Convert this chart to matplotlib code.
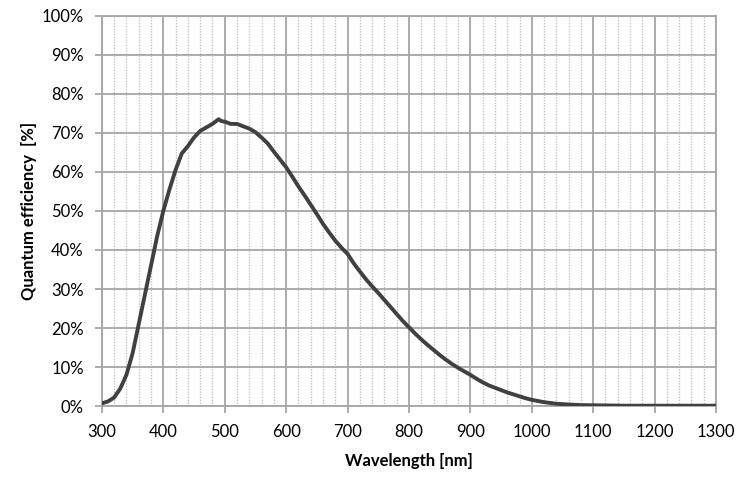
import matplotlib
matplotlib.use("Agg")
import matplotlib.pyplot as plt
from matplotlib.ticker import MultipleLocator, FuncFormatter

wavelength = [300, 310, 320, 330, 340, 350, 360, 370, 380, 390,
              400, 410, 420, 430, 440, 450, 460, 470, 480, 490,
              495, 500, 510, 520, 530, 540, 550, 560, 570, 580,
              590, 600, 610, 620, 630, 640, 650, 660, 670, 680,
              690, 700, 710, 720, 730, 740, 750, 760, 770, 780,
              790, 800, 810, 820, 830, 840, 850, 860, 870, 880,
              890, 900, 910, 920, 930, 940, 950, 960, 970, 980,
              990, 1000, 1020, 1040, 1060, 1080, 1100, 1150, 1200, 1250, 1300]
qe = [0.7, 1.2, 2.2, 4.5, 8.0, 13.5, 21.0, 28.5, 36.0, 43.5,
      50.0, 55.5, 60.5, 64.7, 66.6, 68.8, 70.5, 71.4, 72.3, 73.5,
      73.0, 72.9, 72.3, 72.3, 71.7, 71.1, 70.2, 68.8, 67.3, 65.2,
      63.2, 61.2, 58.8, 56.3, 54.0, 51.6, 49.2, 46.7, 44.5, 42.4,
      40.6, 39.0, 36.6, 34.5, 32.5, 30.7, 29.0, 27.2, 25.4, 23.6,
      21.8, 20.2, 18.6, 17.1, 15.7, 14.4, 13.1, 11.9, 10.8, 9.8,
      8.9, 8.0, 7.0, 6.1, 5.3, 4.7, 4.1, 3.5, 3.0, 2.5,
      2.0, 1.6, 1.0, 0.6, 0.4, 0.25, 0.2, 0.1, 0.1, 0.1, 0.1]

plt.rcParams["font.family"] = ["Lato", "DejaVu Sans"]

fig = plt.figure(figsize=(7.49, 4.8), dpi=100)
ax = fig.add_axes([0.136, 0.154, 0.820, 0.813])

ax.plot(wavelength, qe, color="#404040", linewidth=2.8, solid_capstyle="round",
        solid_joinstyle="round", zorder=3)

ax.set_xlim(300, 1300)
ax.set_ylim(0, 100)
ax.xaxis.set_major_locator(MultipleLocator(100))
ax.xaxis.set_minor_locator(MultipleLocator(20))
ax.yaxis.set_major_locator(MultipleLocator(10))
ax.yaxis.set_major_formatter(FuncFormatter(lambda v, _: f"{v:.0f}%"))

ax.grid(which="major", color="#a6a6a6", linewidth=1.3)
ax.grid(which="minor", axis="x", color="#bdbdbd", linewidth=0.9, linestyle=(0, (1, 1.2)))
ax.set_axisbelow(True)

for s in ax.spines.values():
    s.set_color("#a6a6a6")
    s.set_linewidth(1.3)

ax.tick_params(which="major", direction="out", length=5, width=1.3, color="#a6a6a6",
               labelsize=12, pad=8)
ax.tick_params(which="minor", length=0)

ax.set_xlabel("Wavelength [nm]", fontsize=12, fontweight="bold", labelpad=9)
ax.set_ylabel("Quantum efficiency  [%]", fontsize=12, fontweight="bold", labelpad=3)

fig.savefig("out.png", dpi=100)
